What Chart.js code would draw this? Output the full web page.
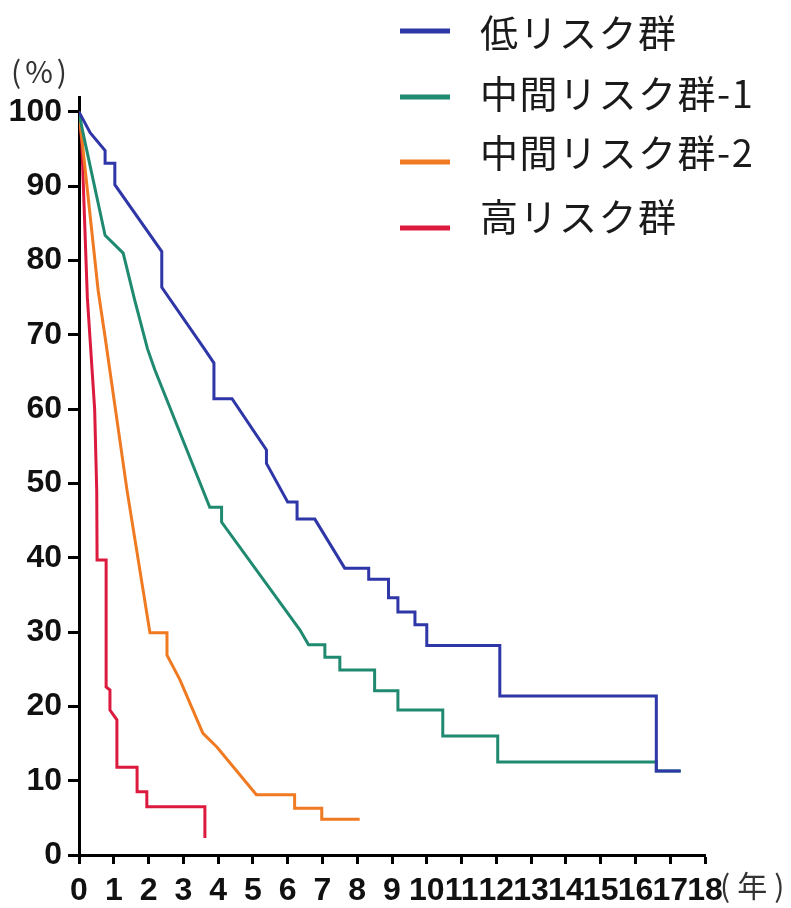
<!DOCTYPE html>
<html>
<head>
<meta charset="utf-8">
<script src="https://cdn.jsdelivr.net/npm/chart.js@4"></script>
<style>
  html, body { margin: 0; padding: 0; background: #fff; }
  #wrap { width: 791px; height: 908px; }
</style>
</head>
<body>
<div id="wrap"><canvas id="kmChart" width="791" height="908"></canvas></div>
<script>
// series labels
const groupLabels = ['低リスク群', '中間リスク群-1', '中間リスク群-2', '高リスク群'];

// 低リスク群 (years / %)
const lowX = [0, 0.32, 0.75, 0.75, 1.03, 1.03, 2.38, 2.38, 3.62, 3.88, 3.88, 4.4, 5.39, 5.39, 6.0, 6.27, 6.27, 6.78, 7.64, 8.33, 8.33, 8.9, 8.9, 9.17, 9.17, 9.66, 9.66, 10.0, 10.0, 12.1, 12.1, 16.6, 16.6, 17.3];
const lowY = [100, 97.2, 94.8, 93.1, 93.1, 90.2, 81.2, 76.4, 68.0, 66.2, 61.4, 61.4, 54.5, 52.7, 47.5, 47.5, 45.2, 45.2, 38.6, 38.6, 37.1, 37.1, 34.6, 34.6, 32.7, 32.7, 31.0, 31.0, 28.2, 28.2, 21.4, 21.4, 11.3, 11.3];

// 中間リスク群-1
const mid1X = [0, 0.1, 0.75, 1.27, 1.6, 1.97, 2.18, 3.76, 4.1, 4.1, 6.35, 6.6, 7.07, 7.07, 7.5, 7.5, 8.5, 8.5, 9.17, 9.17, 10.46, 10.46, 12.04, 12.04, 16.6, 16.6, 17.3];
const mid1Y = [100, 97.5, 83.4, 81.0, 74.7, 68.1, 65.3, 46.8, 46.8, 44.8, 30.3, 28.3, 28.3, 26.6, 26.6, 24.9, 24.9, 22.1, 22.1, 19.5, 19.5, 16.0, 16.0, 12.5, 12.5, 11.3, 11.3];

// 中間リスク群-2
const mid2X = [0, 0.55, 0.75, 1.38, 2.04, 2.53, 2.53, 2.9, 3.56, 3.97, 5.1, 6.2, 6.2, 6.98, 6.98, 8.07];
const mid2Y = [100, 76.0, 69.7, 49.1, 29.9, 29.9, 26.9, 23.6, 16.4, 14.5, 8.1, 8.1, 6.3, 6.3, 4.8, 4.8];

// 高リスク群
const highX = [0, 0.08, 0.24, 0.45, 0.51, 0.52, 0.78, 0.78, 0.89, 0.89, 1.09, 1.09, 1.67, 1.67, 1.95, 1.95, 3.62, 3.62];
const highY = [100, 96.0, 75.0, 60.0, 49.0, 39.7, 39.7, 22.6, 22.2, 19.5, 18.2, 11.8, 11.8, 8.5, 8.5, 6.5, 6.5, 2.3];

const groupColors = ['#2e36a8', '#1f8a70', '#f07a22', '#dc1a3e'];

const xTicks = [0, 1, 2, 3, 4, 5, 6, 7, 8, 9, 10, 11, 12, 13, 14, 15, 16, 17, 18];
const yTicks = [0, 10, 20, 30, 40, 50, 60, 70, 80, 90, 100];

function pts(xs, ys) {
  return xs.map((x, i) => ({ x: x, y: ys[i] }));
}

const tickFont = { family: "'Liberation Sans', Arial, sans-serif", size: 32, weight: 'bold' };
const cjkFont = "'Noto Sans CJK JP', 'Noto Sans', sans-serif";

// legend + axis unit labels drawn on top
const extras = {
  id: 'extras',
  afterDraw(chart) {
    const c = chart.ctx;
    c.save();
    const lineY = [31, 97, 162, 228];
    const textY = [33, 94, 153, 217];
    chart.data.datasets.forEach((ds, i) => {
      c.strokeStyle = ds.borderColor;
      c.lineWidth = 5;
      c.beginPath();
      c.moveTo(400, lineY[i]);
      c.lineTo(450, lineY[i]);
      c.stroke();
      c.fillStyle = '#1a1a1a';
      c.font = '38px ' + cjkFont;
      c.letterSpacing = '1.5px';
      c.textBaseline = 'middle';
      c.textAlign = 'left';
      c.fillText(ds.label, 480, textY[i]);
    });
    c.fillStyle = '#333';
    c.textBaseline = 'middle';
    c.font = '30px ' + cjkFont;
    c.letterSpacing = '4px';
    c.fillText('(%)', 11, 72);
    c.letterSpacing = '7px';
    c.fillText('(年)', 720, 886);
    c.restore();
  }
};

const ctx = document.getElementById('kmChart').getContext('2d');
const kmChart = new Chart(ctx, {
  type: 'line',
  data: {
    datasets: [
      { label: groupLabels[0], data: pts(lowX, lowY), borderColor: groupColors[0] },
      { label: groupLabels[1], data: pts(mid1X, mid1Y), borderColor: groupColors[1] },
      { label: groupLabels[2], data: pts(mid2X, mid2Y), borderColor: groupColors[2] },
      { label: groupLabels[3], data: pts(highX, highY), borderColor: groupColors[3] }
    ]
  },
  options: {
    responsive: false,
    animation: false,
    layout: { padding: { top: 97, right: 86, left: 0, bottom: 0 } },
    elements: {
      line: { borderWidth: 3, tension: 0, fill: false },
      point: { radius: 0 }
    },
    scales: {
      x: {
        type: 'linear',
        min: 0,
        max: 18,
        afterBuildTicks: axis => { axis.ticks = xTicks.map(v => ({ value: v })); },
        afterFit: scale => { scale.height = 53; },
        grid: { drawOnChartArea: false, drawTicks: true, tickLength: 9, tickWidth: 3, tickColor: '#000' },
        border: { display: true, width: 3, color: '#000' },
        ticks: { font: tickFont, color: '#111', padding: 8, maxRotation: 0, autoSkip: false }
      },
      y: {
        min: 0,
        max: 102,
        afterBuildTicks: axis => { axis.ticks = yTicks.map(v => ({ value: v })); },
        afterFit: scale => { scale.width = 79; },
        grid: { drawOnChartArea: false, drawTicks: true, tickLength: 11, tickWidth: 3, tickColor: '#000' },
        border: { display: true, width: 3, color: '#000' },
        ticks: { font: tickFont, color: '#111', padding: 6 }
      }
    },
    plugins: {
      legend: { display: false },
      tooltip: { enabled: false }
    }
  },
  plugins: [extras]
});
</script>
</body>
</html>
